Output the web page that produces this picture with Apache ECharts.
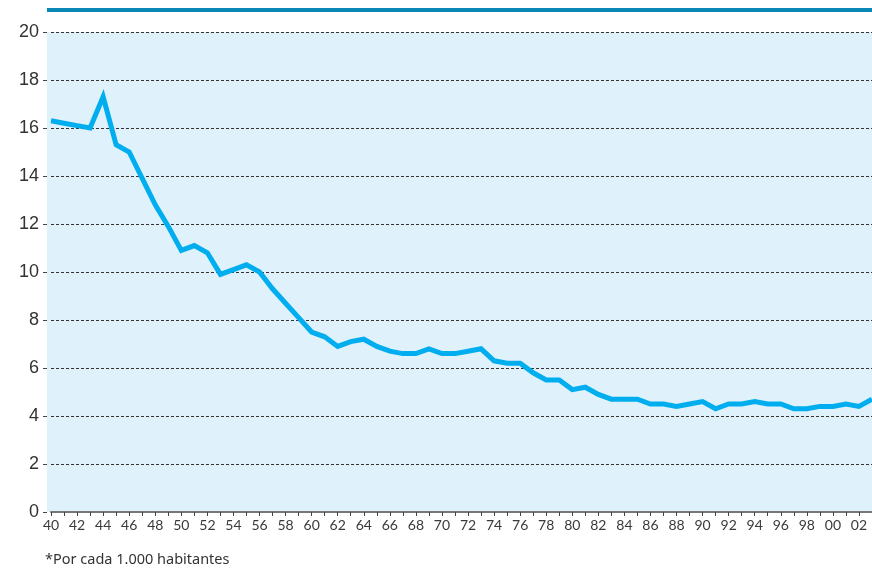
<!DOCTYPE html>
<html>
<head>
<meta charset="utf-8">
<script src="https://cdn.jsdelivr.net/npm/echarts@6/dist/echarts.min.js"></script>
<style>html,body{margin:0;padding:0;background:#fff}#c{width:872px;height:579px}</style>
</head>
<body>
<div id="c"></div>
<script>
const years = [];
for (let y = 1940; y <= 2003; y++) years.push(String(y));
const rates = [
  16.3, 16.2, 16.1, 16.0, 17.3, 15.3, 15.0, 13.9, 12.8, 11.9,
  10.9, 11.1, 10.8, 9.9, 10.1, 10.3, 10.0, 9.3, 8.7, 8.1,
  7.5, 7.3, 6.9, 7.1, 7.2, 6.9, 6.7, 6.6, 6.6, 6.8,
  6.6, 6.6, 6.7, 6.8, 6.3, 6.2, 6.2, 5.8, 5.5, 5.5,
  5.1, 5.2, 4.9, 4.7, 4.7, 4.7, 4.5, 4.5, 4.4, 4.5,
  4.6, 4.3, 4.5, 4.5, 4.6, 4.5, 4.5, 4.3, 4.3, 4.4,
  4.4, 4.5, 4.4, 4.7
];
const yTicks = [0, 2, 4, 6, 8, 10, 12, 14, 16, 18, 20];
const footnote = '*Por cada 1.000 habitantes';

const chart = echarts.init(document.getElementById('c'), null, {renderer: 'canvas'});
chart.setOption({
  animation: false,
  grid: {left: 51, right: 0, top: 32, bottom: 67, containLabel: false},
  graphic: [
    {type: 'rect', left: 47, top: 32, z: -10, shape: {width: 825, height: 480}, style: {fill: '#dff1fb'}},
    {type: 'rect', left: 47, top: 8, z: 10, shape: {width: 825, height: 4}, style: {fill: '#0a86b4'}},
    {type: 'text', left: 45, top: 552, style: {text: footnote, font: '14.5px "Noto Sans", sans-serif', fill: '#333'}}
  ],
  xAxis: {
    type: 'category',
    data: years,
    boundaryGap: false,
    axisLine: {show: true, lineStyle: {color: '#777', width: 2}},
    axisTick: {show: true, interval: 0, length: 4, lineStyle: {color: '#444'}},
    axisLabel: {
      interval: 1,
      margin: 6,
      color: '#3a3a3a',
      fontSize: 14,
      fontFamily: 'Lato, sans-serif',
      formatter: v => v.slice(2)
    },
    splitLine: {show: false}
  },
  yAxis: {
    type: 'value',
    min: yTicks[0],
    max: yTicks[yTicks.length - 1],
    interval: 2,
    offset: 4,
    axisLine: {show: false},
    axisTick: {show: true, length: 4, lineStyle: {color: '#444'}},
    axisLabel: {margin: 8, color: '#333', fontSize: 18, fontFamily: '"Liberation Sans", Arial, sans-serif'},
    splitLine: {show: true, lineStyle: {color: '#333', type: [3, 2], width: 1}}
  },
  series: [{
    type: 'line',
    data: rates,
    symbol: 'none',
    lineStyle: {color: '#00aeef', width: 5, join: 'miter'},
    clip: false
  }]
});
</script>
</body>
</html>
